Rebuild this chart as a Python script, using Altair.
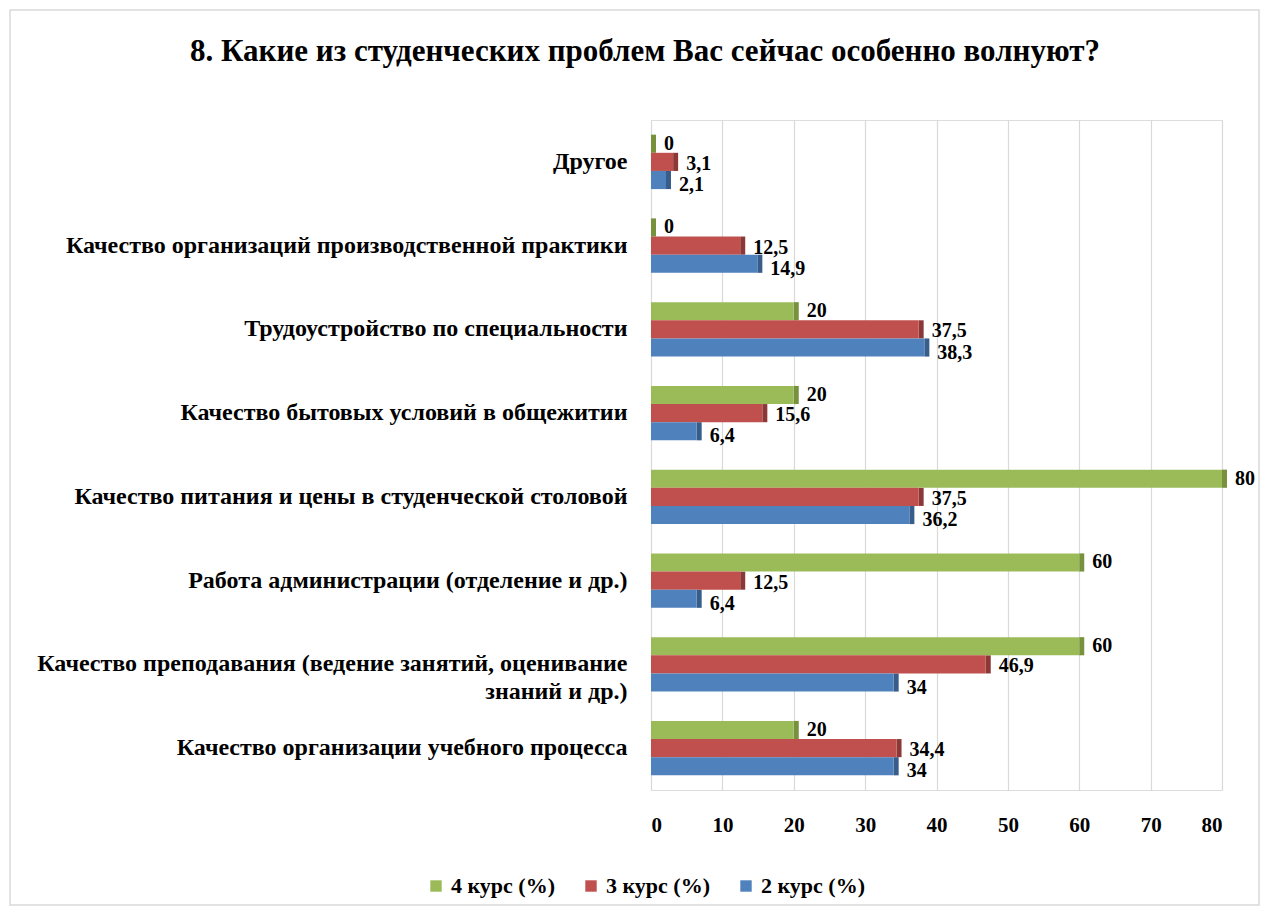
import altair as alt
import pandas as pd

categories = [
    "Другое",
    "Качество организаций производственной практики",
    "Трудоустройство по специальности",
    "Качество бытовых условий в общежитии",
    "Качество питания и цены в студенческой столовой",
    "Работа администрации (отделение и др.)",
    "Качество преподавания (ведение занятий, оценивание|знаний и др.)",
    "Качество организации учебного процесса",
]
series = ["4 курс (%)", "3 курс (%)", "2 курс (%)"]
course4 = [0, 0, 20, 20, 80, 60, 60, 20]
course3 = [3.1, 12.5, 37.5, 15.6, 37.5, 12.5, 46.9, 34.4]
course2 = [2.1, 14.9, 38.3, 6.4, 36.2, 6.4, 34, 34]
colors = ["#9BBB59", "#C0504D", "#4F81BD"]
side_colors = ["#76923C", "#8C3836", "#385D8A"]
x_ticks = [0, 10, 20, 30, 40, 50, 60, 70, 80]
title_text = "8. Какие из студенческих проблем Вас сейчас особенно волнуют?"

rows = []
for i, c in enumerate(categories):
    for s, vals in zip(series, [course4, course3, course2]):
        rows.append({"cat": c, "series": s, "value": vals[i]})
df = pd.DataFrame(rows)

FONT = "Times New Roman, Liberation Serif, serif"
W, H = 571, 670

base = alt.Chart(df).encode(
    y=alt.Y(
        "cat:N",
        sort=categories,
        scale=alt.Scale(paddingInner=0.35, paddingOuter=0.175),
        axis=alt.Axis(
            title=None,
            labelExpr="split(datum.label, '|')",
            labelFont=FONT,
            labelFontSize=24,
            labelFontWeight="bold",
            labelColor="black",
            labelPadding=24,
            labelLimit=700,
            labelLineHeight=28,
            domain=False,
            ticks=False,
            grid=False,
        ),
    ),
    yOffset=alt.YOffset("series:N", sort=series, scale=alt.Scale(paddingInner=0)),
)

bars = base.mark_bar(stroke=None).encode(
    x=alt.X(
        "value:Q",
        scale=alt.Scale(domain=[0, 80], nice=False),
        axis=alt.Axis(
            title=None,
            values=x_ticks,
            labelFont=FONT,
            labelFontSize=21,
            labelFontWeight="bold",
            labelColor="black",
            labelPadding=24,
            domain=False,
            ticks=False,
            grid=True,
            gridColor="#D9D9D9",
            gridWidth=1.2,
        ),
    ),
    color=alt.Color(
        "series:N",
        sort=series,
        scale=alt.Scale(domain=series, range=colors),
        legend=alt.Legend(
            title=None,
            orient="none",
            legendX=-226,
            legendY=755,
            direction="horizontal",
            symbolType="square",
            symbolSize=130,
            symbolStrokeWidth=0,
            labelFont=FONT,
            labelFontSize=22,
            labelFontWeight="bold",
            labelColor="black",
            columnPadding=24,
            labelOffset=4,
        ),
    ),
)

sides = base.mark_bar(stroke=None, x2Offset=5, yOffset=-3).encode(
    x="value:Q",
    x2="value:Q",
    color=alt.Color("series:N", sort=series,
                    scale=alt.Scale(domain=series, range=side_colors), legend=None),
)

label_layers = []
for s, d in zip(series, [0, 2, 5]):
    label_layers.append(
        base.transform_filter(alt.datum.series == s).transform_calculate(
            label="replace(toString(datum.value), '.', ',')"
        ).mark_text(
            align="left", baseline="middle", dx=13, dy=d,
            font=FONT, fontSize=20, fontWeight="bold", color="black",
        ).encode(x="value:Q", text="label:N")
    )

border = alt.Chart(alt.Data(values=[{}])).mark_rect(
    fill="transparent", stroke="#D9D9D9", strokeWidth=1.5
).encode(
    x=alt.value(-641), x2=alt.value(W + 37),
    y=alt.value(-110), y2=alt.value(H + 115),
)

title = alt.Chart(alt.Data(values=[{}])).mark_text(
    text=title_text, font=FONT, fontSize=31, fontWeight="bold", color="black",
    align="center", baseline="middle",
).encode(x=alt.value(-6), y=alt.value(-68))

chart = alt.layer(border, title, sides, bars, *label_layers).resolve_scale(
    color="independent"
).properties(
    width=W,
    height=H,
    padding={"left": 643, "top": 112, "right": 39, "bottom": 117},
    autosize=alt.AutoSizeParams(type="none"),
).configure_view(stroke=None).configure(background="white")

chart.save("out.html", embed_options={"renderer": "svg", "actions": False})
